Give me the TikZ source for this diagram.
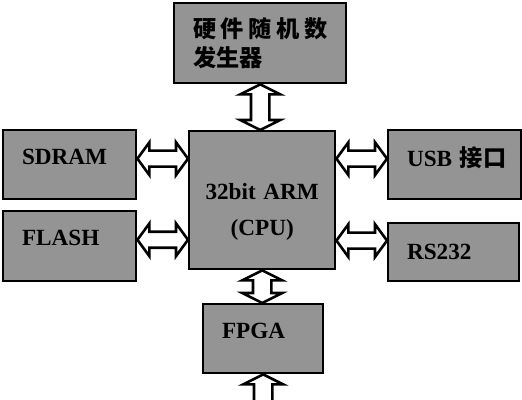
\documentclass[tikz,border=0pt]{standalone}
\usepackage{fontspec}
\setmainfont{Liberation Serif}
\newfontfamily\cjk{Noto Sans CJK SC}
\usepackage{tikz}
\usetikzlibrary{calc}

% arrow sizes, horizontal and vertical buses
\newcommand{\headlen}{0.3cm}
\newcommand{\headhw}{0.41cm}
\newcommand{\shafthw}{0.2cm}
\newcommand{\vheadlen}{0.25cm}
\newcommand{\vheadhw}{0.5cm}
\newcommand{\vshafthw}{0.23cm}

% hollow double arrow: left tip x from #1, right tip x from #2, level y from #3
\newcommand{\hdarrow}[3]{%
  \draw[dblarrow] let \p1=#1, \p2=#2, \p3=#3 in
    (\x1,\y3) -- ++(\headlen,\headhw) -- ++(0,\shafthw-\headhw) -- (\x2-\headlen,\y3+\shafthw)
    -- ++(0,\headhw-\shafthw) -- (\x2,\y3) -- ++(-\headlen,-\headhw) -- ++(0,\headhw-\shafthw)
    -- (\x1+\headlen,\y3-\shafthw) -- ++(0,\shafthw-\headhw) -- cycle;}

% hollow double arrow: top tip #1 (gives x), bottom tip y from #2
\newcommand{\vdarrow}[2]{%
  \draw[dblarrow] let \p1=#1, \p2=#2 in
    (\p1) -- ++(\vheadhw,-\vheadlen) -- ++(\vshafthw-\vheadhw,0) -- (\x1+\vshafthw,\y2+\vheadlen)
    -- ++(\vheadhw-\vshafthw,0) -- (\x1,\y2) -- ++(-\vheadhw,\vheadlen) -- ++(\vheadhw-\vshafthw,0)
    -- (\x1-\vshafthw,\y1-\vheadlen) -- ++(\vshafthw-\vheadhw,0) -- cycle;}

\begin{document}
\begin{tikzpicture}[
    blk/.style={draw=black, line width=0.06cm, fill=black!42, anchor=north west,
                align=left, inner xsep=0.47cm, inner ysep=0pt,
                font=\fontsize{16.5}{21}\selectfont\bfseries},
    dblarrow/.style={draw=black, line width=0.065cm, fill=white, line join=miter}]

   % Frame
   \useasboundingbox (0,0) rectangle (13.05,-10);
   \clip (0,0) rectangle (13.05,-10);

   % Random number generator
   \node[blk, text width=3.36cm, minimum height=2cm] (rng) at (4.325,-0.05)
        {\cjk 硬\hfill 件\hfill 随\hfill 机\hfill 数\\发生器};

   % Memories
   \node[blk, text width=2.385cm, minimum height=1.725cm, text depth=0.4cm] (sdram) at (0.05,-3.225) {SDRAM};
   \node[blk, text width=2.385cm, minimum height=1.75cm, text depth=0.4cm] (flash) at (0.05,-5.25) {FLASH};

   % CPU
   \node[blk, align=center, inner xsep=0.2cm, text width=3.25cm, minimum height=3.45cm,
         text height=1.0cm] (cpu) at (4.7,-3.25) {32bit~ARM\\[0.16cm](CPU)};

   % Interfaces
   \node[blk, text width=2.385cm, minimum height=1.725cm, text depth=0.4cm] (usb) at (9.675,-3.225) {USB~{\cjk 接口}};
   \node[blk, text width=2.335cm, minimum height=1.45cm] (rs232) at (9.675,-5.55) {RS232};

   % FPGA
   \node[blk, text width=2.06cm, minimum height=1.725cm, text depth=0.4cm] (fpga) at (5.05,-7.575) {FPGA};
   \coordinate (out) at ($(fpga.south)+(0,-2)$);

   % Buses
   \vdarrow{(rng.south)}{(cpu.north)}
   \hdarrow{(sdram.east)}{(cpu.west)}{([yshift=0.15cm]sdram.east)}
   \hdarrow{(flash.east)}{(cpu.west)}{([yshift=0.16cm]flash.east)}
   \hdarrow{(cpu.east)}{(usb.west)}{([yshift=0.15cm]usb.west)}
   \hdarrow{(cpu.east)}{(rs232.west)}{([yshift=0.29cm]rs232.west)}
   \vdarrow{(cpu.south)}{(fpga.north)}
   \vdarrow{(fpga.south)}{(out)}

\end{tikzpicture}
\end{document}
